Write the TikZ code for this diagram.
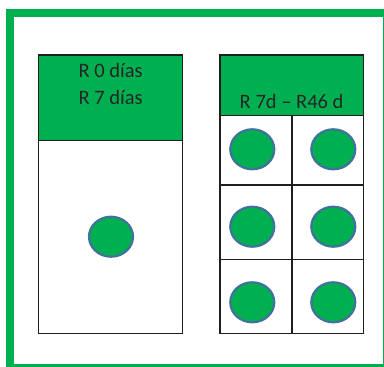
\documentclass[tikz,border=0pt]{standalone}
\usepackage{fontspec}
\setmainfont{Carlito}
\usetikzlibrary{shapes.geometric}
\definecolor{ogreen}{RGB}{0,176,80}
\definecolor{oblue}{RGB}{65,113,156}
\definecolor{boxline}{RGB}{30,30,30}
\tikzset{
  boxcell/.style={draw=boxline, line width=1.4pt},
  header/.style={fill=ogreen, draw=boxline, line width=1.4pt},
  dot/.style={ellipse, fill=ogreen, draw=oblue, line width=2.2pt, minimum width=44pt, minimum height=40pt, inner sep=0pt},
  lbl/.style={anchor=base, font=\fontsize{20.5}{24}\selectfont, text=black!85, inner sep=0pt},
  framebar/.style={fill=ogreen}
}
\begin{document}
\begin{tikzpicture}[x=1pt,y=-1pt]
\useasboundingbox (0,0) rectangle (384,367);
\fill[white] (0,0) rectangle (384,367);
% frame: thick left and top, cut thin at right and bottom
\fill[framebar] (6,9) rectangle (14,367);
\fill[framebar] (6,9) rectangle (384,16.5);
\fill[framebar] (383,9) rectangle (384,367);
\fill[framebar] (6,364) rectangle (384,367);
% left box
\draw[boxcell] (38.7,140.7) rectangle (182.7,333.3);
\draw[header] (38.7,55) rectangle (182.7,140.7);
\node[lbl] (l1) at (110.7,77.3) {R 0 días};
\node[lbl] (l2) at (110.7,104.3) {R 7 días};
\node[dot] (c0) at (111,236.7) {};
% right box
\draw[header] (220,55) rectangle (363.3,115.7);
\node[lbl] (r1) at (291.6,108.3) {R 7d – R46 d};
\draw[boxcell] (220,115.7) rectangle (363.3,333.3);
\draw[boxcell] (292,115.7) -- (292,333.3);
\draw[boxcell] (220,184.8) -- (363.3,184.8);
\draw[boxcell] (220,259.3) -- (363.3,259.3);
\node[dot] (c1) at (252.3,149.3) {};
\node[dot] (c2) at (333.3,149.3) {};
\node[dot] (c3) at (252.3,226.7) {};
\node[dot] (c4) at (333.3,226.7) {};
\node[dot] (c5) at (252.3,302.3) {};
\node[dot] (c6) at (333.3,302.3) {};
\end{tikzpicture}
\end{document}
